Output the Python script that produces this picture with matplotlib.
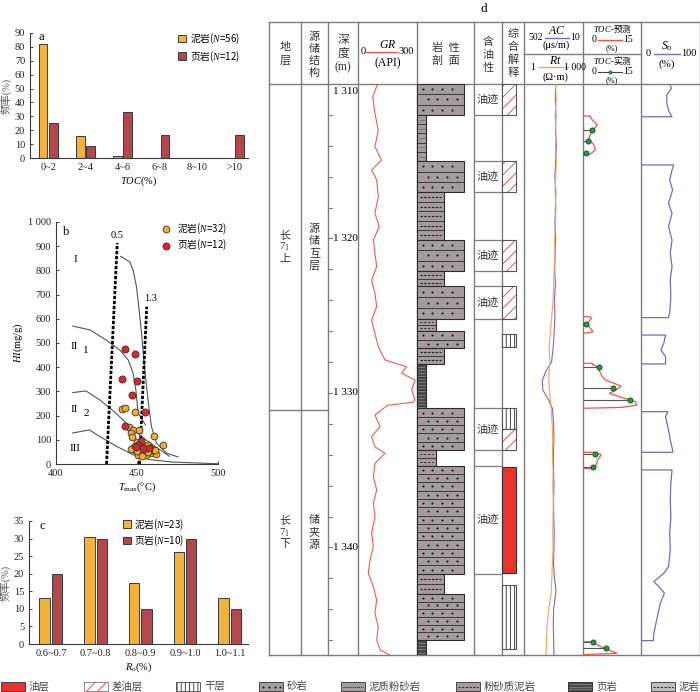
import numpy as np
import matplotlib
matplotlib.use('Agg')
import matplotlib.pyplot as plt
from matplotlib.patches import Rectangle

plt.rcParams['font.family'] = ['Liberation Serif', 'Noto Sans CJK SC']
plt.rcParams['mathtext.fontset'] = 'custom'
plt.rcParams['mathtext.rm'] = 'Liberation Serif'
plt.rcParams['mathtext.it'] = 'Liberation Serif:italic'
plt.rcParams['font.size'] = 7.5
plt.rcParams['hatch.linewidth'] = 0.7
plt.rcParams['axes.unicode_minus'] = False

nan = np.nan

# ---- panel a : TOC histogram
toc_bins = ['0~2', '2~4', '4~6', '6~8', '8~10', '>10']
toc_mud = [82.1, 16.1, 1.8, 0, 0, 0]
toc_shale = [25.0, 8.3, 33.3, 16.7, 0, 16.7]

# ---- panel b : Tmax - HI
mud_tmax = [440.5, 442.5, 448.5, 445.2, 447.6, 451.1, 446.6, 447.2, 460.4, 466.1, 447.6, 448.7,
            452.8, 454.2, 455.9, 458.9, 462.0, 460.0, 456.9, 453.8, 450.7, 446.6, 451.7, 449.7,
            457.9, 455.4, 461.0, 452.8, 448.7, 450.0, 457.0, 454.5]
mud_hi = [227, 231, 216, 154, 141, 141, 128, 111, 114, 77, 66, 59,
          59, 73, 56, 45, 43, 59, 80, 45, 38, 62, 76, 52,
          66, 38, 56, 32, 73, 90, 50, 62]
shale_tmax = [442.3, 448.5, 440.9, 449.7, 446.8, 455.2, 442.4, 452.6, 450.5, 457.5, 453.9, 449.3]
shale_hi = [474, 453, 353, 345, 284, 214, 156, 94, 78, 67, 66, 71]

curve_I_t = [440, 445.6, 447.6, 449.7, 451.3, 452.8, 454.2, 455.9, 457.3, 458.9, 462, 468.2, 475.4]
curve_I_hi = [858, 835, 801, 732, 636, 540, 430, 320, 238, 155, 87, 45, 29]
curve_II1_t = [410.3, 421, 431, 439.4, 444.6, 447.6, 449.3, 450.7, 455.2]
curve_II1_hi = [570, 554, 512, 471, 430, 375, 306, 210, 162]
curve_II2_t = [410.3, 418.5, 427, 437, 447.6, 458, 470]
curve_II2_hi = [295, 302, 265, 210, 141, 87, 32]
curve_III_t = [410.3, 420.5, 427, 437.4, 447.6, 458, 472, 500]
curve_III_hi = [128, 141, 114, 73, 38, 18, 8, 1]
ro05_t = [431.2, 437.8]
ro05_hi = [0, 913]
ro13_t = [451.5, 456.0]
ro13_hi = [0, 650]

# ---- panel c : Ro histogram
ro_bins = ['0.6~0.7', '0.7~0.8', '0.8~0.9', '0.9~1.0', '1.0~1.1']
ro_mud = [13.0, 30.4, 17.4, 26.1, 13.0]
ro_shale = [20, 30, 10, 30, 10]

# ---- panel d : well log
top_depth, bot_depth = 1310.0, 1346.96
strata_boundary = 1331.1

lith_top = [1310.0, 1312.0, 1315.0, 1317.0, 1320.1, 1322.1, 1323.1, 1325.2, 1326.0,
            1327.1, 1328.1, 1331.0, 1333.7, 1334.7, 1341.7, 1343.0, 1346.0]
lith_bot = lith_top[1:] + [bot_depth]
lith_type = ['砂岩', '泥岩', '砂岩', '泥质粉砂岩', '砂岩', '泥质粉砂岩', '砂岩', '粉砂质泥岩', '砂岩',
             '泥质粉砂岩', '页岩', '砂岩', '粉砂质泥岩', '砂岩', '泥质粉砂岩', '砂岩', '页岩']
lith_rows = [3, 5, 3, 5, 3, 2, 3, 2, 2, 2, 0, 5, 2, 13, 2, 6, 0]

oil_top = [1310.0, 1315.0, 1320.1, 1323.1, 1331.0, 1334.7]
oil_bot = [1312.0, 1317.0, 1322.1, 1325.2, 1333.7, 1341.7]

interp_top = [1310.0, 1315.0, 1320.1, 1323.1, 1326.2, 1331.0, 1332.3, 1334.8, 1342.4]
interp_bot = [1312.0, 1317.0, 1322.1, 1325.2, 1327.0, 1332.3, 1333.7, 1341.65, 1346.6]
interp_type = ['差油层', '差油层', '差油层', '差油层', '干层', '干层', '差油层', '油层', '干层']

gr_depth = [1310.06, 1310.82, 1311.90, 1312.98, 1314.06, 1314.92, 1315.57, 1316.21, 1317.29, 1318.37,
            1319.23, 1320.10, 1320.96, 1321.82, 1322.69, 1323.55, 1324.41, 1325.28, 1326.14, 1327.00,
            1327.86, 1328.30, 1328.72, 1328.94, 1329.16, 1329.81, 1330.45, 1330.6, 1330.8, 1331.42,
            1332.18, 1332.83, 1333.48, 1333.90, 1334.55, 1335.42, 1336.28, 1337.14, 1338.01, 1339.08,
            1339.95, 1340.82, 1341.67, 1342.54, 1343.40, 1344.26, 1345.13, 1345.99, 1346.63, 1346.96]
gr_api = [98, 75, 86, 103, 86, 120, 69, 95, 103, 86,
          108, 78, 86, 95, 69, 86, 95, 69, 86, 103,
          137, 247, 222, 256, 290, 273, 290, 280, 150, 86,
          112, 69, 86, 137, 86, 78, 95, 78, 86, 69,
          78, 61, 52, 78, 95, 86, 103, 95, 112, 161]

ac_depth = [1310, 1311, 1312, 1313, 1314, 1315, 1316, 1317, 1318, 1319, 1320, 1321, 1322, 1323,
            1324, 1325, 1326, 1327, 1328, 1328.6, 1329.2, 1329.8, 1330.4, 1331, 1332, 1333, 1334,
            1335, 1336, 1337, 1338, 1339, 1340, 1341, 1342, 1342.8, 1343.4, 1344, 1345, 1346, 1346.96]
ac_val = [238, 242, 235, 240, 232, 238, 245, 236, 240, 244, 238, 242, 246, 240,
          248, 244, 250, 258, 272, 320, 350, 345, 300, 265, 255, 252, 258,
          255, 252, 256, 254, 250, 252, 256, 248, 235, 245, 255, 258, 255, 252]

rt_depth = [1310, 1311, 1312, 1313, 1314, 1315, 1316, 1317, 1318, 1319, 1320, 1321, 1322, 1323,
            1324, 1325, 1326, 1327, 1328, 1329, 1330, 1331, 1332, 1333, 1334, 1335, 1336, 1337,
            1338, 1339, 1340, 1341, 1342, 1343, 1344, 1345, 1346, 1346.96]
rt_val = [40, 44, 38, 42, 40, 44, 41, 38, 42, 40, 36, 38, 34, 32,
          30, 26, 22, 19, 21, 18, 20, 24, 27, 29, 28, 30, 29, 31,
          30, 29, 30, 28, 26, 24, 18, 15, 14, 13]

toc_pred_depth = [1312.07, 1312.07, 1312.33, 1312.65, 1313.09, 1313.51, 1313.95, 1314.27, 1314.55, 1314.55, nan,
                  1325.06, 1325.06, 1325.17, 1325.53, 1326.03, 1326.14, nan,
                  1328.08, 1328.08, 1328.14, 1328.30, 1328.95, 1329.16, 1329.55, 1329.81, 1330.02, 1330.24,
                  1330.56, 1330.78, 1330.93, 1330.99, nan,
                  1333.84, 1333.84, 1334.01, 1334.34, 1334.66, 1334.88, 1334.88, nan,
                  1346.10, 1346.10, 1346.31, 1346.59, 1346.85, 1346.94]
toc_pred = [0, 1.8, 2.4, 3.7, 2.2, 1.5, 2.8, 3.2, 1.8, 0, nan,
            0, 1.8, 2.2, 1.0, 2.6, 0, nan,
            0, 2.4, 2.4, 3.7, 5.0, 5.8, 9.8, 8.6, 6.8, 9.4,
            13.5, 13.9, 10.2, 0, nan,
            0, 3.1, 4.7, 3.7, 3.5, 2.0, 0, nan,
            0, 2.6, 3.7, 6.2, 8.8, 0]
toc_meas_depth = [1313.0, 1313.7, 1314.45, 1325.55, 1328.35, 1329.7, 1330.45, 1333.95, 1334.77, 1346.15, 1346.5]
toc_meas = [2.2, 1.35, 0.7, 0.7, 4.1, 7.8, 12.2, 3.1, 2.7, 2.5, 5.9]

so_depth = [1310.1, 1310.28, 1310.71, 1311.25, 1311.79, 1312.12, 1312.12, nan,
            1315.24, 1315.24, 1315.57, 1316.21, 1316.86, 1317.72, 1318.37, 1319.23, 1320.10, 1320.96,
            1321.82, 1322.68, 1323.77, 1324.84, 1325.12, 1325.12, nan,
            1326.25, 1326.25, 1326.78, 1327.22, 1327.65, 1328.12, 1328.12, nan,
            1331.21, 1331.21, 1331.53, 1332.39, 1333.04, 1333.69, 1333.84, 1333.84, nan,
            1334.98, 1334.98, 1335.85, 1336.93, 1338.0, 1339.08, 1340.16, 1341.24, 1341.67, 1342.21,
            1342.64, 1342.96, 1343.61, 1344.47, 1345.55, 1346.03, 1346.03]
so_val = [50, 52, 44, 44, 48, 53, 0, nan,
          0, 56, 53, 49, 54, 47, 53, 47, 53, 50,
          53, 50, 51, 49, 47, 0, nan,
          0, 42, 39, 34, 42, 42, 0, nan,
          0, 46, 42, 47, 50, 54, 54, 0, nan,
          0, 53, 51, 50, 51, 49, 50, 47, 39, 22,
          33, 40, 33, 28, 22, 21, 0]

depth_ticks = list(range(1312, 1347, 2))
depth_labels = [1310, 1320, 1330, 1340]

legend_items = ['油层', '差油层', '干层', '砂岩', '泥质粉砂岩', '粉砂质泥岩', '页岩', '泥岩']

# ---------------- styles
MUD = '#F5B23A'
SHALE = '#B3474B'
PT_MUD = '#F7AA2C'
PT_SHALE = '#E0252A'
EDGE = '#3a3a3a'
GRID = '#7d7d7d'
ROCK = '#A59C9C'
DARK = '#4a4a4a'
HATCH_RED = '#F0554A'
OIL_RED = '#E8322C'
# strings that mix CJK and mathtext need a CJK default font
CJK_MATH = {'family': 'Noto Sans CJK SC', 'size': 7}
CJK_SMALL = {'family': 'Noto Sans CJK SC', 'size': 6.3}

W, H = 700, 692
fig = plt.figure(figsize=(7, 6.92), dpi=100)


def px_axes(x0, y0, x1, y1):
    return fig.add_axes([x0 / W, 1 - y1 / H, (x1 - x0) / W, (y1 - y0) / H])


def style_left(ax):
    for s in ['top', 'right']:
        ax.spines[s].set_visible(False)
    for s in ['left', 'bottom']:
        ax.spines[s].set_color(EDGE)
        ax.spines[s].set_linewidth(0.8)
    ax.tick_params(direction='in', length=2.5, width=0.6, labelsize=7.5, colors='#222')


# ---------------- panel a
axa = px_axes(30, 33, 248, 158)
xa = np.arange(len(toc_bins))
axa.bar(xa - 0.14, toc_mud, 0.235, color=MUD, edgecolor=EDGE, lw=0.7, label='泥岩($\\mathit{N}$=56)')
axa.bar(xa + 0.14, toc_shale, 0.235, color=SHALE, edgecolor=EDGE, lw=0.7, label='页岩($\\mathit{N}$=12)')
axa.set_xlim(-0.49, 5.37)
axa.set_ylim(0, 90)
axa.set_yticks(range(0, 91, 10))
axa.set_xticks(xa)
axa.set_xticklabels(toc_bins)
style_left(axa)
axa.tick_params(axis='x', length=0)
axa.set_xlabel('$\\mathit{TOC}$(%)', fontsize=7.5, labelpad=2)
axa.set_ylabel('频率(%)', fontsize=7.5, labelpad=2, color='#555')
axa.text(0.04, 0.97, 'a', transform=axa.transAxes, fontsize=9, va='center', ha='left')
axa.legend(loc='upper left', bbox_to_anchor=(0.64, 1.08), frameon=False, handlelength=0.8,
           handleheight=0.8, handletextpad=0.4, labelspacing=0.35, prop=CJK_MATH)

# ---------------- panel b
axb = px_axes(56, 222, 218, 464)
for t, h in [(curve_I_t, curve_I_hi), (curve_II1_t, curve_II1_hi),
             (curve_II2_t, curve_II2_hi), (curve_III_t, curve_III_hi)]:
    axb.plot(t, h, color='#555', lw=0.8)
axb.plot(ro05_t, ro05_hi, color='k', lw=2.0, ls=(0, (1.2, 0.6)))
axb.plot(ro13_t, ro13_hi, color='k', lw=2.0, ls=(0, (1.2, 0.6)))
axb.text(437.5, 925, '0.5', ha='center', va='bottom', fontsize=7.5)
axb.text(458.5, 665, '1.3', ha='center', va='bottom', fontsize=7.5)
axb.scatter(mud_tmax, mud_hi, s=24, color=PT_MUD, edgecolor='#333', lw=0.6, zorder=3,
            label='泥岩($\\mathit{N}$=32)')
axb.scatter(shale_tmax, shale_hi, s=26, color=PT_SHALE, edgecolor='#333', lw=0.6, zorder=4,
            label='页岩($\\mathit{N}$=12)')
axb.text(412, 845, 'I', fontsize=8, ha='center', va='center')
axb.text(411, 485, 'II', fontsize=8, ha='center', va='center')
axb.text(418.5, 468, '1', fontsize=8, ha='center', va='center')
axb.text(411, 225, 'II', fontsize=8, ha='center', va='center')
axb.text(418.5, 208, '2', fontsize=8, ha='center', va='center')
axb.text(412, 66, 'III', fontsize=8, ha='center', va='center')
axb.text(406.5, 960, 'b', fontsize=9, ha='center', va='center')
axb.set_xlim(400, 500)
axb.set_ylim(0, 1000)
axb.set_xticks([400, 450, 500])
axb.set_yticks(range(0, 1001, 100))
axb.set_yticklabels([str(v) if v < 1000 else '1 000' for v in range(0, 1001, 100)])
style_left(axb)
axb.set_xlabel('$\\mathit{T}_{\\mathrm{max}}$(°C)', fontsize=7.5, labelpad=2)
axb.set_ylabel('$\\mathit{HI}$(mg/g)', fontsize=7.5, labelpad=2)
axb.legend(loc='upper left', bbox_to_anchor=(0.58, 1.03), frameon=False, handletextpad=0.1,
           labelspacing=0.25, prop=CJK_MATH, markerscale=1.0, borderpad=0.2)

# ---------------- panel c
axc = px_axes(29, 521, 248, 644)
xc = np.arange(len(ro_bins))
axc.bar(xc - 0.139, ro_mud, 0.235, color=MUD, edgecolor=EDGE, lw=0.7, label='泥岩($\\mathit{N}$=23)')
axc.bar(xc + 0.139, ro_shale, 0.235, color=SHALE, edgecolor=EDGE, lw=0.7, label='页岩($\\mathit{N}$=10)')
axc.set_xlim(-0.49, 4.41)
axc.set_ylim(0, 35)
axc.set_yticks(range(0, 36, 5))
axc.set_xticks(xc)
axc.set_xticklabels(ro_bins)
style_left(axc)
axc.tick_params(axis='x', length=0)
axc.set_xlabel('$\\mathit{R}_{\\mathrm{o}}$(%)', fontsize=7.5, labelpad=2)
axc.set_ylabel('频率(%)', fontsize=7.5, labelpad=2, color='#555')
axc.text(0.05, 0.96, 'c', transform=axc.transAxes, fontsize=9, va='center', ha='left')
axc.legend(loc='upper left', bbox_to_anchor=(0.39, 1.1), frameon=False, handlelength=0.8,
           handleheight=0.8, handletextpad=0.3, labelspacing=0.2, prop=CJK_MATH)

# ---------------- panel d : frame and header
col_x = [269, 301, 328, 358, 417, 474, 502, 524, 583, 641, 699.5]
axh = px_axes(269, 22, 700, 655)
axh.set_xlim(269, 700)
axh.set_ylim(655, 22)
axh.axis('off')
for xv in col_x:
    axh.plot([xv, xv], [22, 655], color=GRID, lw=1.0, clip_on=False)
for yv in [22, 84, 655]:
    axh.plot([269, 699.5], [yv, yv], color=GRID, lw=1.0, clip_on=False)
axh.plot([524, 641], [54, 54], color=GRID, lw=1.0)


def vtext(ax, x, y0, chars, step, **kw):
    for i, c in enumerate(chars):
        ax.text(x, y0 + i * step, c, ha='center', va='center', **kw)


hk = dict(fontsize=8, color='#333')
vtext(axh, 285, 47, ['地', '层'], 13.5, **hk)
vtext(axh, 314.5, 37, ['源', '储', '结', '构'], 12, **hk)
vtext(axh, 343, 40, ['深', '度', '(m)'], 13.5, fontsize=8.5, color='#333')
axh.text(387.5, 45, '$\\mathit{GR}$', ha='center', va='center', fontsize=8.5)
axh.plot([366, 397], [52, 52], color=HATCH_RED, lw=1)
axh.text(363, 52, '0', ha='center', va='center', fontsize=7.5)
axh.text(406, 52, '300', ha='center', va='center', fontsize=7.5)
axh.text(387.5, 63, '(API)', ha='center', va='center', fontsize=8.5)
axh.text(445.5, 48, '岩  性', ha='center', va='center', **hk)
axh.text(445.5, 61, '剖  面', ha='center', va='center', **hk)
vtext(axh, 488, 42, ['含', '油', '性'], 13, **hk)
vtext(axh, 513, 34, ['综', '合', '解', '释'], 13, **hk)
# AC / Rt header
axh.text(557, 31, '$\\mathit{AC}$', ha='center', va='center', fontsize=8.5)
axh.plot([545, 569], [38, 38], color='#8466BE', lw=1)
axh.text(536, 37.5, '502', ha='center', va='center', fontsize=7)
axh.text(575, 37.5, '10', ha='center', va='center', fontsize=7)
axh.text(556, 45, '(μs/m)', ha='center', va='center', fontsize=7.5)
axh.text(555, 61, '$\\mathit{Rt}$', ha='center', va='center', fontsize=8.5)
axh.plot([539, 568], [67, 67], color='#F2A35A', lw=1)
axh.text(533, 67, '1', ha='center', va='center', fontsize=7)
axh.text(574.5, 67, '1 000', ha='center', va='center', fontsize=7)
axh.text(555, 77, '(Ω·m)', ha='center', va='center', fontsize=7.5)
# TOC header
axh.text(612, 28.5, '$\\mathit{TOC}$-预测', ha='center', va='center', fontproperties=CJK_SMALL)
axh.text(594, 39.5, '0', ha='center', va='center', fontsize=7)
axh.plot([598, 622], [39.5, 39.5], color=HATCH_RED, lw=1)
axh.text(628.5, 39.5, '15', ha='center', va='center', fontsize=7)
axh.text(612, 48, '(%)', ha='center', va='center', fontsize=6)
axh.text(612, 60.5, '$\\mathit{TOC}$-实测', ha='center', va='center', fontproperties=CJK_SMALL)
axh.text(594, 71.5, '0', ha='center', va='center', fontsize=7)
axh.plot([598, 622], [71.5, 71.5], color='#444', lw=0.8)
axh.scatter([610], [71.5], s=6, color='#1E9B45', edgecolor='#0b3d1a', lw=0.3, zorder=3)
axh.text(628.5, 71.5, '15', ha='center', va='center', fontsize=7)
axh.text(612, 80, '(%)', ha='center', va='center', fontsize=6)
# So header
axh.text(667, 46, '$\\mathit{S}_{\\mathrm{o}}$', ha='center', va='center', fontsize=8.5)
axh.plot([654, 680], [54, 54], color='#7272C4', lw=1)
axh.text(648, 54, '0', ha='center', va='center', fontsize=7.5)
axh.text(689, 54, '100', ha='center', va='center', fontsize=7.5)
axh.text(667, 64, '(%)', ha='center', va='center', fontsize=8)
fig.text(484 / W, 1 - 9 / H, 'd', ha='center', va='center', fontsize=9.5)

# ---------------- panel d : body (x in layout px, y in depth)
axd = px_axes(269, 84, 700, 655)
axd.set_xlim(269, 700)
axd.set_ylim(bot_depth, top_depth)
axd.axis('off')
axd.plot([269, 328], [strata_boundary, strata_boundary], color=GRID, lw=1.0)

upper_mid = (top_depth + strata_boundary) / 2
lower_mid = (strata_boundary + bot_depth) / 2
sk = dict(fontsize=8, color='#333')
vtext(axd, 285, upper_mid - 0.78, ['长', '7$_1$', '上'], 0.78, **sk)
vtext(axd, 314.5, upper_mid - 1.17, ['源', '储', '互', '层'], 0.78, **sk)
vtext(axd, 285, lower_mid - 0.78, ['长', '7$_1$', '下'], 0.78, **sk)
vtext(axd, 314.5, lower_mid - 0.78, ['储', '夹', '源'], 0.78, **sk)

# depth scale
for d in depth_ticks:
    axd.plot([328, 332], [d, d], color=GRID, lw=0.8)
for d in depth_labels:
    lab = '{} {:03d}'.format(d // 1000, d % 1000)
    if d == top_depth:
        axd.text(333, d + 0.2, lab, ha='left', va='top', fontsize=8)
    else:
        axd.text(333, d, lab, ha='left', va='center', fontsize=8)

# lithology column
LX, LW = 417, 57
lith_width = {'砂岩': 0.82, '泥质粉砂岩': 0.47, '粉砂质泥岩': 0.33, '泥岩': 0.16, '页岩': 0.16}
dot_x = np.array([0.10, 0.27, 0.44, 0.61])
for t, b, kind, n in zip(lith_top, lith_bot, lith_type, lith_rows):
    w = lith_width[kind] * LW
    fc = DARK if kind == '页岩' else ROCK
    axd.add_patch(Rectangle((LX, t), w, b - t, facecolor=fc, edgecolor='#2b2b2b', lw=0.8, zorder=2))
    if kind == '页岩':
        for yy in np.arange(t + 0.2, b, 0.2):
            axd.plot([LX + 1, LX + w - 1], [yy, yy], color='#8a8a8a', lw=0.5, zorder=3)
        continue
    rh = (b - t) / n
    for k in range(n):
        if k > 0:
            axd.plot([LX, LX + w], [t + k * rh, t + k * rh], color='#2b2b2b', lw=0.6, zorder=3)
        yc = t + (k + 0.5) * rh
        if kind == '砂岩':
            xs = LX + LW * (dot_x + (k % 2) * 0.085)
            axd.scatter(xs, [yc] * len(xs), s=2.2, color='#111', zorder=4, lw=0)
        elif kind == '泥质粉砂岩':
            axd.plot([LX + 3, LX + w - 3], [yc, yc], color='#222', lw=0.8, ls=(0, (2.2, 1.2)), zorder=4)
        elif kind == '粉砂质泥岩':
            axd.plot([LX + 3, LX + w - 3], [yc, yc], color='#222', lw=0.7, ls=(0, (2.0, 2.0)), zorder=4)
        else:
            axd.plot([LX + 1.5, LX + w - 1.5], [yc, yc], color='#333', lw=0.5, ls=(0, (1.2, 1.2)), zorder=4)

# oil content column
for t, b in zip(oil_top, oil_bot):
    axd.add_patch(Rectangle((474, t), 28, b - t, facecolor='white', edgecolor=GRID, lw=0.9, zorder=2))
    axd.text(488, (t + b) / 2, '油迹', ha='center', va='center', fontsize=8, color='#333', zorder=3)

# interpretation column
for t, b, kind in zip(interp_top, interp_bot, interp_type):
    if kind == '油层':
        axd.add_patch(Rectangle((502, t), 14, b - t, facecolor=OIL_RED, edgecolor='#333', lw=0.8, zorder=2))
        continue
    hatch = '///' if kind == '差油层' else '||||'
    hc = HATCH_RED if kind == '差油层' else '#444'
    axd.add_patch(Rectangle((502, t), 14, b - t, facecolor='white', edgecolor=hc, hatch=hatch, lw=0, zorder=2))
    axd.add_patch(Rectangle((502, t), 14, b - t, fill=False, edgecolor='#555', lw=0.8, zorder=3))

# GR curve
axgr = px_axes(358, 84, 417, 655)
axgr.set_xlim(0, 300)
axgr.set_ylim(bot_depth, top_depth)
axgr.axis('off')
axgr.plot(gr_api, gr_depth, color='#F25C4C', lw=0.8)

# AC / Rt curves
axac = px_axes(524, 84, 583, 655)
axac.set_xlim(502, 10)
axac.set_ylim(bot_depth, top_depth)
axac.axis('off')
axac.plot(ac_val, ac_depth, color='#8466BE', lw=0.8)
axrt = px_axes(524, 84, 583, 655)
axrt.set_xscale('log')
axrt.set_xlim(1, 1000)
axrt.set_ylim(bot_depth, top_depth)
axrt.axis('off')
axrt.plot(rt_val, rt_depth, color='#F2A35A', lw=0.8)

# TOC
axtoc = px_axes(583, 84, 641, 655)
axtoc.set_xlim(0, 15)
axtoc.set_ylim(bot_depth, top_depth)
axtoc.axis('off')
axtoc.plot(toc_pred, toc_pred_depth, color=HATCH_RED, lw=0.9)
axtoc.hlines(toc_meas_depth, 0, toc_meas, color='#555', lw=0.8)
axtoc.scatter(toc_meas, toc_meas_depth, s=14, color='#1E9B45', edgecolor='#0b3d1a', lw=0.5, zorder=3)

# So
axso = px_axes(641, 84, 699.5, 655)
axso.set_xlim(0, 100)
axso.set_ylim(bot_depth, top_depth)
axso.axis('off')
axso.plot(so_val, so_depth, color='#6E6EC2', lw=0.9)

# ---------------- bottom legend
axl = px_axes(0, 676, 700, 692)
axl.set_xlim(0, 700)
axl.set_ylim(692, 676)
axl.axis('off')
leg_x = [1, 84, 176, 259, 341, 456, 568, 651]
for name, x0 in zip(legend_items, leg_x):
    y0, hh, ww = 682, 9, 24
    if name == '油层':
        axl.add_patch(Rectangle((x0, y0), ww, hh, facecolor=OIL_RED, edgecolor='#333', lw=0.6))
    elif name == '差油层':
        axl.add_patch(Rectangle((x0, y0), ww, hh, facecolor='white', edgecolor=HATCH_RED, hatch='///', lw=0))
        axl.add_patch(Rectangle((x0, y0), ww, hh, fill=False, edgecolor='#777', lw=0.6))
    elif name == '干层':
        axl.add_patch(Rectangle((x0, y0), ww, hh, facecolor='white', edgecolor='#444', hatch='||||', lw=0))
        axl.add_patch(Rectangle((x0, y0), ww, hh, fill=False, edgecolor='#444', lw=0.6))
    elif name == '页岩':
        axl.add_patch(Rectangle((x0, y0), ww, hh, facecolor=DARK, edgecolor='#222', lw=0.6))
        for yy in [684, 686.5, 689]:
            axl.plot([x0 + 1, x0 + ww - 1], [yy, yy], color='#8a8a8a', lw=0.5)
    else:
        fc = '#BDBDBD' if name == '泥岩' else ROCK
        axl.add_patch(Rectangle((x0, y0), ww, hh, facecolor=fc, edgecolor='#333', lw=0.6))
        yc = y0 + hh / 2
        if name == '砂岩':
            axl.scatter(x0 + np.array([4, 10, 16, 21]), [yc] * 4, s=2, color='#111', lw=0)
        elif name == '泥质粉砂岩':
            axl.plot([x0 + 2, x0 + ww - 2], [yc, yc], color='#222', lw=0.7, ls=(0, (1, 1)))
        else:
            axl.plot([x0 + 2, x0 + ww - 2], [yc, yc], color='#222', lw=0.7, ls=(0, (2.2, 1.6)))
    axl.text(x0 + ww + 4, y0 + hh / 2, name, ha='left', va='center', fontsize=7.5, color='#444')

fig.savefig('out.png', dpi=100)
